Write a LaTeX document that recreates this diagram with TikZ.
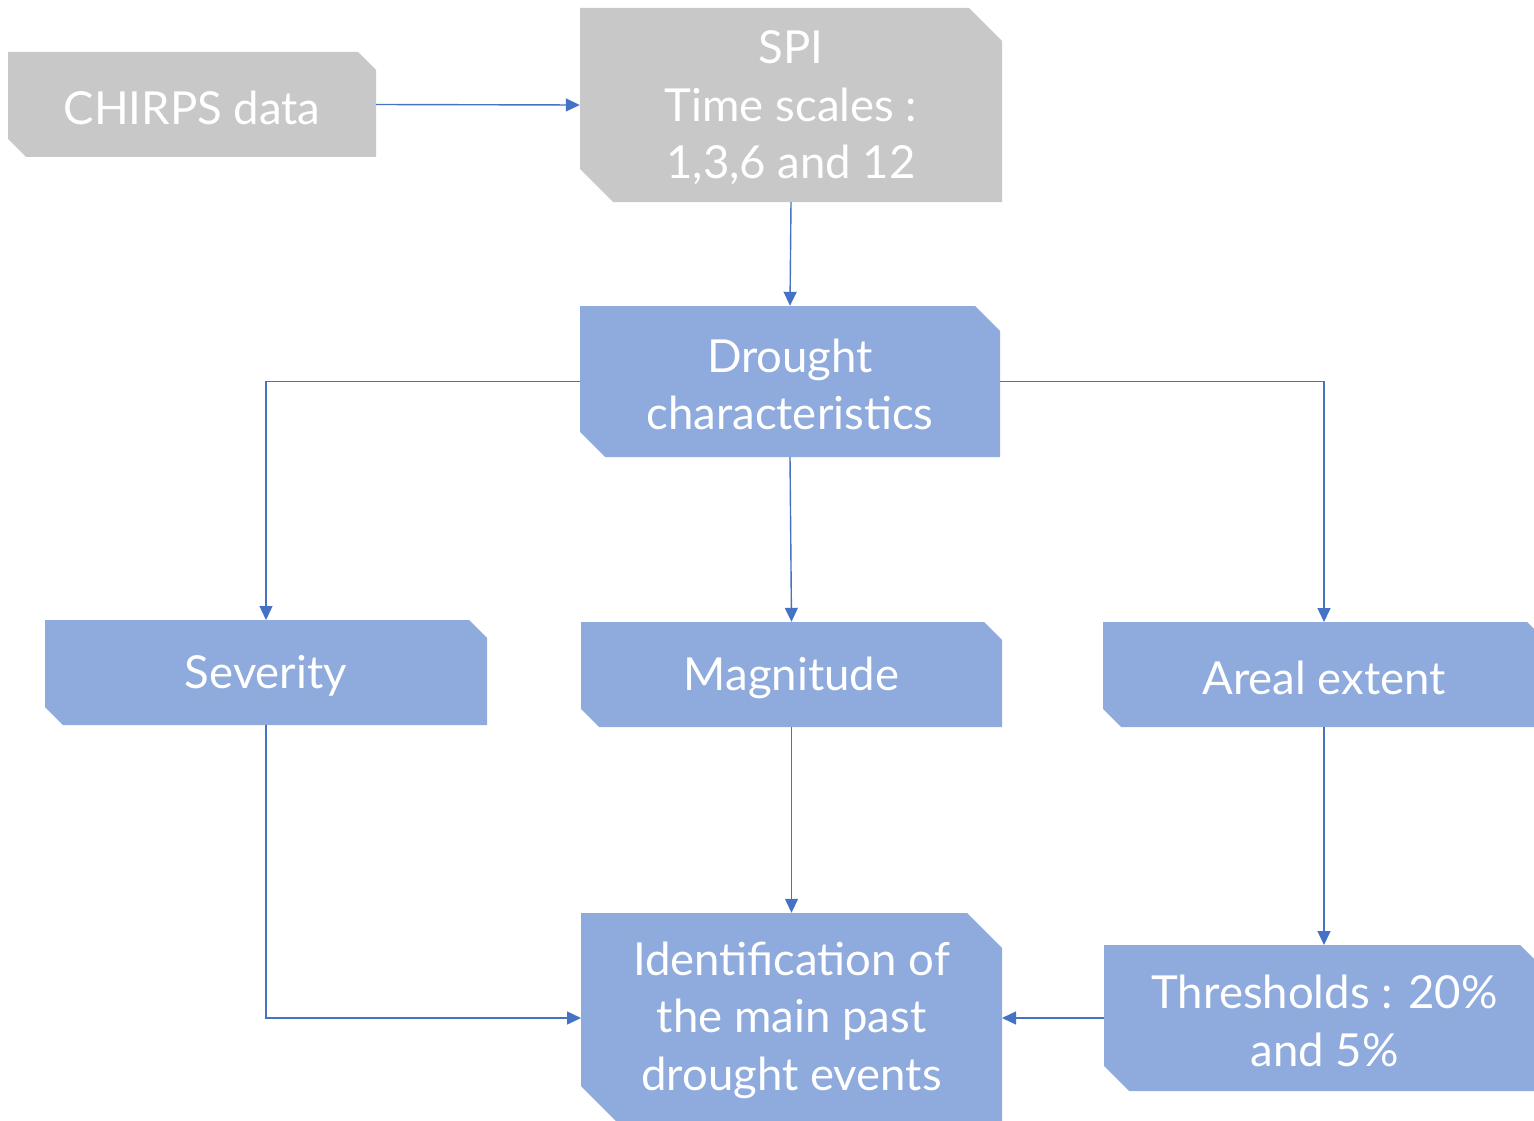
\documentclass[tikz,border=0pt]{standalone}
\usepackage{fontspec}
\setmainfont{Lato}
\usetikzlibrary{arrows.meta}
\definecolor{greybox}{HTML}{C8C8C8}
\definecolor{bluebox}{HTML}{8FAADC}
\definecolor{linkblue}{HTML}{4472C4}
\tikzset{
  boxtext/.style={inner sep=0pt, align=center, text=white,
    font=\fontsize{45.5}{57.5}\selectfont},
  link/.style={draw=linkblue, line width=1.4pt,
    -{Triangle[length=14pt,width=13pt]}},
}
% name, x1, y1, x2, y2, cut, colour, text
\newcommand\snipbox[8]{%
  \fill[#7] (#2,#3) -- ({#4-#6},#3) -- (#4,{#3+#6}) -- (#4,#5)
    -- ({#2+#6},#5) -- (#2,{#5-#6}) -- cycle;
  \node[boxtext, minimum width={(#4-#2)*1pt}, minimum height={(#5-#3)*1pt}]
    (#1) at ({(#2+#4)/2},{(#3+#5)/2}) {};
  \node[boxtext] at ([yshift=-3pt]#1.center) {#8};
}
\begin{document}
\begin{tikzpicture}[x=1pt,y=-1pt]
\useasboundingbox (0,0) rectangle (1534,1121);
\begin{scope}
\clip (0,0) rectangle (1534,1121);
\snipbox{chirps}{8}{52}{376}{157}{18}{greybox}{CHIRPS data}
\snipbox{spi}{580}{8}{1002}{202}{33}{greybox}{SPI\\Time scales :\\1,3,6 and 12}
\snipbox{drought}{580}{306}{1000}{457}{25}{bluebox}{Drought\\characteristics}
\snipbox{severity}{45}{620}{487}{725}{18}{bluebox}{Severity}
\snipbox{magnitude}{581}{622}{1002}{727}{18}{bluebox}{Magnitude}
\snipbox{areal}{1103}{622}{1545}{727}{18}{bluebox}{Areal extent}
\snipbox{ident}{581}{913}{1002}{1121}{35}{bluebox}{Identification of\\the main past\\drought events}
\snipbox{thresh}{1104}{945}{1545}{1091}{25}{bluebox}{Thresholds : 20\%\\and 5\%}
\end{scope}
\coordinate (sevtop) at (266,620);
\coordinate (artop) at (1324,622);
\coordinate (arbot) at (1324,727);
\coordinate (thtop) at (1324,945);
\coordinate (sevbot) at (266,725);
\coordinate (thleft) at (1104,1018);
\coordinate (idleft) at (581,1018);
\coordinate (idright) at (1002,1018);
\draw[link] (chirps.east) -- (spi.west);
\draw[link] (spi.south) -- (drought.north);
\draw[link] (drought.west) -| (sevtop);
\draw[link] (drought.south) -- (magnitude.north);
\draw[link] (drought.east) -| (artop);
\draw[link] (sevbot) |- (idleft);
\draw[link] (magnitude.south) -- (ident.north);
\draw[link] (arbot) -- (thtop);
\draw[link] (thleft) -- (idright);
\end{tikzpicture}
\end{document}
